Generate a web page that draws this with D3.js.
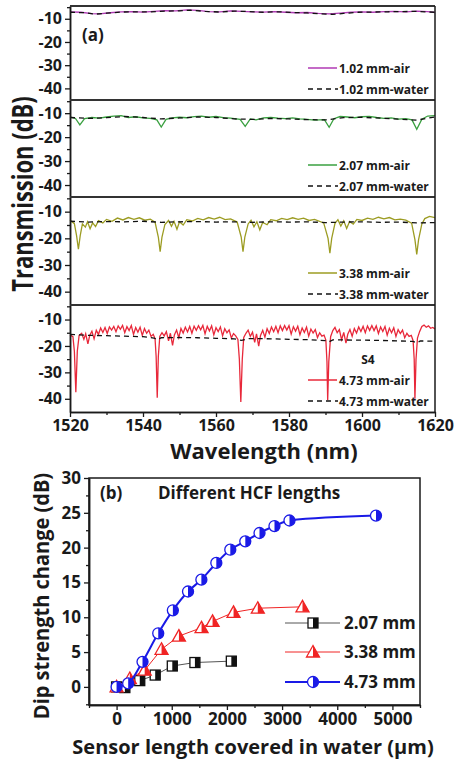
<!DOCTYPE html>
<html>
<head>
<meta charset="utf-8">
<script src="https://cdn.jsdelivr.net/npm/d3@7"></script>
<style>
  body { margin: 0; background: #fff; }
  svg text { font-family: "Open Sans", sans-serif; font-weight: bold; fill: #1a1a1a; }
</style>
</head>
<body>
<div id="chart"></div>
<script>
// ---- panel (a): transmission spectra, [wavelength nm, dB]
const lengthLabels = ["1.02", "2.07", "3.38", "4.73"];
const wavelengthTicks = [1520, 1540, 1560, 1580, 1600, 1620];
const wavelengthMinor = [1530, 1550, 1570, 1590, 1610];
const transmissionTicks = [-10, -20, -30, -40];
const transmissionMinor = [-5, -15, -25, -35];

const air102 = [[1520,-7.0],[1523,-7.2],[1526,-7.8],[1528,-7.9],[1531,-7.4],[1534,-7.0],[1537,-6.9],[1540,-7.1],[1543,-6.8],[1546,-6.5],[1549,-6.6],[1552,-6.2],[1555,-6.4],[1558,-6.9],[1561,-7.0],[1564,-6.6],[1567,-6.8],[1570,-7.0],[1573,-7.1],[1576,-6.9],[1579,-7.2],[1582,-7.4],[1585,-7.3],[1588,-7.7],[1591,-7.9],[1594,-7.6],[1597,-7.2],[1600,-7.0],[1603,-7.2],[1606,-6.9],[1609,-6.8],[1612,-7.0],[1615,-6.7],[1618,-6.9],[1620,-7.3]];
const water102 = [[1520,-7.2],[1524,-7.4],[1527,-8.0],[1530,-7.6],[1534,-7.1],[1538,-7.0],[1542,-7.0],[1546,-6.7],[1550,-6.6],[1553,-6.3],[1557,-6.8],[1561,-7.1],[1565,-6.7],[1569,-6.9],[1573,-7.2],[1577,-7.0],[1581,-7.3],[1585,-7.5],[1589,-7.9],[1592,-8.1],[1595,-7.7],[1599,-7.2],[1603,-7.1],[1607,-7.0],[1611,-6.9],[1615,-6.8],[1620,-7.2]];

const air207 = [[1520,-11.5],[1521.5,-12.2],[1522.7,-14.9],[1524,-12.3],[1526,-11.8],[1528,-12.1],[1530,-11.6],[1532,-11.2],[1534,-11.0],[1536,-11.8],[1538,-11.5],[1540,-12.0],[1542,-12.2],[1543.8,-12.8],[1545,-15.8],[1546.3,-12.6],[1548,-12.0],[1550,-11.7],[1552,-11.9],[1554,-11.4],[1556,-11.2],[1558,-11.7],[1560,-11.4],[1562,-11.9],[1564,-12.1],[1566.6,-12.6],[1568,-15.5],[1569.4,-12.4],[1571,-12.8],[1573,-12.0],[1575,-11.8],[1577,-12.1],[1579,-12.3],[1581,-12.0],[1583,-12.4],[1585,-12.6],[1587,-12.9],[1589.7,-12.7],[1591,-15.9],[1592.3,-12.3],[1594,-11.4],[1596,-11.6],[1598,-11.9],[1600,-11.5],[1602,-11.3],[1604,-11.8],[1606,-12.2],[1608,-12.0],[1610,-12.5],[1612,-12.3],[1613.7,-12.8],[1615,-16.7],[1616.4,-12.5],[1618,-11.2],[1620,-11.0]];
const water207 = [[1520,-11.8],[1525,-12.2],[1530,-11.9],[1535,-11.4],[1540,-11.8],[1545,-12.4],[1550,-12.0],[1555,-11.6],[1560,-11.8],[1565,-12.4],[1570,-12.6],[1575,-12.2],[1580,-12.4],[1585,-12.7],[1590,-12.8],[1595,-11.9],[1600,-11.7],[1605,-12.1],[1610,-12.5],[1615,-12.9],[1620,-11.6]];

const air338 = [[1520,-13.2],[1521.2,-14.5],[1521.8,-19],[1522.3,-24.1],[1522.8,-19],[1523.4,-14.6],[1524.2,-15.8],[1524.8,-13.8],[1525.5,-16.4],[1526.2,-14.2],[1527,-15.6],[1527.8,-13.4],[1529,-14.2],[1530,-12.9],[1531.5,-13.6],[1533,-12.4],[1534.5,-13.1],[1536,-12.2],[1537.5,-12.9],[1539,-12.3],[1540.5,-13.2],[1542,-12.8],[1543.3,-13.9],[1544.2,-19.5],[1544.7,-25],[1545.2,-19.5],[1546,-14.8],[1547,-13.3],[1547.8,-15.5],[1548.5,-13.6],[1549.3,-16.6],[1550,-13.8],[1551,-15.0],[1552,-13.0],[1553.5,-13.5],[1555,-12.5],[1556.5,-13.1],[1558,-12.2],[1559.5,-12.8],[1561,-12.1],[1562.5,-13.0],[1564,-12.7],[1565.8,-13.9],[1566.9,-19.5],[1567.4,-25],[1567.9,-19.5],[1568.8,-14.6],[1569.6,-13.2],[1570.4,-15.7],[1571.2,-13.8],[1572,-16.8],[1572.8,-14.0],[1574,-14.9],[1575,-13.0],[1576.5,-13.4],[1578,-12.5],[1579.5,-13.0],[1581,-12.3],[1582.5,-12.9],[1584,-12.4],[1585.5,-13.3],[1587,-12.9],[1589.5,-14.2],[1590.7,-20],[1591.2,-25.6],[1591.7,-20],[1592.6,-14.4],[1593.4,-13.0],[1594.2,-15.4],[1595,-13.4],[1595.8,-16.3],[1596.6,-13.7],[1597.6,-14.7],[1598.6,-12.9],[1600,-13.3],[1601.5,-12.4],[1603,-12.9],[1604.5,-12.1],[1606,-12.7],[1607.5,-12.2],[1609,-13.1],[1610.5,-12.8],[1612,-13.2],[1613.6,-14.3],[1614.5,-20.5],[1615,-26],[1615.5,-20.5],[1616.4,-14.6],[1617.2,-12.6],[1618.5,-11.8],[1620,-12.2]];
const water338 = [[1520,-13.6],[1525,-13.9],[1530,-13.7],[1535,-13.8],[1540,-13.6],[1545,-14.0],[1550,-13.8],[1555,-13.7],[1560,-13.9],[1565,-13.8],[1570,-14.0],[1575,-13.8],[1580,-13.9],[1585,-13.8],[1590,-14.1],[1595,-13.9],[1600,-13.8],[1605,-14.0],[1610,-13.9],[1615,-14.2],[1620,-14.1]];

const air473 = [[1520,-15.8],[1520.8,-16.5],[1521.2,-22],[1521.6,-37.5],[1522.0,-22],[1522.5,-16.0],[1523.2,-15.2],[1523.8,-17.5],[1524.3,-15.4],[1524.9,-19.2],[1525.4,-16.0],[1526,-14.4],[1526.6,-17.3],[1527.2,-14.1],[1527.8,-15.6],[1528.4,-13.2],[1529,-14.9],[1529.6,-13.0],[1530.2,-15.3],[1530.8,-12.8],[1531.4,-14.0],[1532,-12.6],[1532.6,-14.6],[1533.2,-12.4],[1533.8,-13.7],[1534.4,-12.2],[1535,-15.0],[1535.6,-12.7],[1536.2,-14.2],[1536.8,-12.3],[1537.4,-15.6],[1538,-13.0],[1538.6,-14.8],[1539.2,-12.9],[1539.8,-16.0],[1540.4,-13.4],[1541,-15.2],[1541.6,-14.0],[1542.2,-16.4],[1542.8,-15.6],[1543.3,-17.2],[1543.6,-24],[1543.9,-39.6],[1544.2,-24],
  [1544.6,-16.4],[1545.2,-15.0],[1545.8,-16.2],[1546.4,-14.6],[1547,-18.1],[1547.5,-15.2],[1548.1,-19.8],[1548.6,-15.8],[1549.2,-14.0],[1549.8,-16.9],[1550.4,-13.4],[1551,-15.1],[1551.6,-12.9],[1552.2,-14.7],[1552.8,-12.6],[1553.4,-15.2],[1554,-12.5],[1554.6,-14.1],[1555.2,-12.3],[1555.8,-13.9],[1556.4,-12.2],[1557,-15.4],[1557.6,-12.6],[1558.2,-14.3],[1558.8,-12.4],[1559.4,-15.8],[1560,-13.1],[1560.6,-14.6],[1561.2,-12.8],[1561.8,-16.2],[1562.4,-13.5],[1563,-15.0],[1563.6,-13.9],[1564.2,-17.0],[1564.8,-15.3],[1565.4,-16.2],[1566.0,-17.5],[1566.4,-25],[1566.8,-41.2],[1567.2,-25],
  [1567.6,-16.8],[1568.2,-15.2],[1568.8,-14.0],[1569.4,-16.4],[1570,-14.8],[1570.6,-18.6],[1571.1,-15.4],[1571.7,-20.1],[1572.2,-16.0],[1572.8,-14.1],[1573.4,-16.7],[1574,-13.5],[1574.6,-15.3],[1575.2,-12.8],[1575.8,-14.6],[1576.4,-12.6],[1577,-15.0],[1577.6,-12.4],[1578.2,-14.2],[1578.8,-12.3],[1579.4,-14.0],[1580,-12.3],[1580.6,-15.5],[1581.2,-12.7],[1581.8,-14.4],[1582.4,-12.5],[1583,-15.7],[1583.6,-13.2],[1584.2,-14.9],[1584.8,-12.9],[1585.4,-16.3],[1586,-13.6],[1586.6,-15.1],[1587.2,-13.8],[1587.8,-16.8],[1588.4,-15.0],[1589,-16.3],[1589.6,-15.9],[1590.1,-17.8],[1590.4,-26],[1590.6,-40.5],[1590.9,-26],
  [1591.4,-16.5],[1592,-14.2],[1592.6,-13.0],[1593.2,-15.0],[1593.8,-13.8],[1594.4,-17.6],[1595,-14.9],[1595.6,-18.9],[1596.1,-15.6],[1596.7,-13.8],[1597.3,-16.3],[1597.9,-13.4],[1598.5,-15.1],[1599.1,-12.8],[1599.7,-14.5],[1600.3,-12.6],[1600.9,-15.0],[1601.5,-12.4],[1602.1,-14.1],[1602.7,-12.3],[1603.3,-14.2],[1603.9,-12.4],[1604.5,-15.3],[1605.1,-12.8],[1605.7,-14.5],[1606.3,-12.6],[1606.9,-15.9],[1607.5,-13.3],[1608.1,-15.0],[1608.7,-13.1],[1609.3,-16.4],[1609.9,-13.8],[1610.5,-15.3],[1611.1,-14.0],[1611.7,-16.9],[1612.3,-15.2],[1612.9,-16.4],[1613.5,-16.0],[1614.0,-18.0],[1614.3,-25],[1614.5,-40],[1614.8,-25],
  [1615.2,-17.0],[1615.8,-14.5],[1616.4,-12.6],[1617,-12.1],[1617.6,-12.9],[1618.2,-12.4],[1618.8,-13.3],[1619.4,-13.0],[1620,-13.6]];
const water473 = [[1520,-15.6],[1525,-16.0],[1530,-16.1],[1535,-16.3],[1540,-16.5],[1543,-17.0],[1544,-17.6],[1545,-16.9],[1550,-16.8],[1555,-16.9],[1560,-17.1],[1565,-17.3],[1567,-17.9],[1569,-17.2],[1575,-17.3],[1580,-17.5],[1585,-17.6],[1590,-18.0],[1591,-18.4],[1592,-17.7],[1600,-17.8],[1605,-17.9],[1610,-18.1],[1614,-18.3],[1615,-18.8],[1616,-18.1],[1620,-18.2]];

// ---- panel (b): dip strength change vs covered length (um)
const hcfLabels = ["2.07 mm", "3.38 mm", "4.73 mm"];
const covered207 = [0, 150, 420, 700, 1010, 1420, 2080];
const dip207 = [0, -0.1, 0.9, 1.7, 3.0, 3.5, 3.7];
const covered338 = [0, 240, 510, 815, 1130, 1540, 1740, 2120, 2560, 3370];
const dip338 = [0, 1.2, 2.4, 5.4, 7.3, 8.5, 9.4, 10.7, 11.3, 11.5];
const covered473 = [0, 210, 470, 755, 1020, 1295, 1537, 1808, 2061, 2333, 2591, 2862, 3134, 4702];
const dip473 = [0, 0.5, 3.6, 7.7, 11.0, 13.7, 15.4, 17.8, 19.7, 20.9, 22.1, 23.1, 23.9, 24.6];
const lengthTicks = [0, 1000, 2000, 3000, 4000, 5000];
const lengthMinor = [-500, 500, 1500, 2500, 3500, 4500, 5500];
const dipTicks = [0, 5, 10, 15, 20, 25, 30];
const dipMinor = [-2.5, 2.5, 7.5, 12.5, 17.5, 22.5, 27.5];

const svg = d3.select("#chart").append("svg")
    .attr("width", 455)
    .attr("height", 767);

const ink = "#1a1a1a";
const styleAxis = (g, fontSize) => {
    g.select(".domain").attr("stroke", ink).attr("stroke-width", 1.5);
    g.selectAll(".tick line").attr("stroke", ink).attr("stroke-width", 1.3);
    g.selectAll(".tick text").attr("font-size", fontSize).attr("fill", ink);
};

// ================= (a) =================
const xWave = d3.scaleLinear().domain([1520, 1620]).range([70, 435]);
const panelEdges = [6, 100, 197, 305, 412];
const airSeries = [air102, air207, air338, air473];
const waterSeries = [water102, water207, water338, water473];
const airColors = ["#b03ab4", "#3aa040", "#9c9c22", "#e8283a"];

airSeries.forEach((air, i) => {
    const top = panelEdges[i], bottom = panelEdges[i + 1];
    const y = d3.scaleLinear().domain([-45, -4.5]).range([bottom, top]);
    const line = d3.line().x(d => xWave(d[0])).y(d => y(d[1]));

    svg.append("path").datum(air)
        .attr("d", line)
        .attr("fill", "none")
        .attr("stroke", airColors[i])
        .attr("stroke-width", 1.3);
    svg.append("path").datum(waterSeries[i])
        .attr("d", line)
        .attr("fill", "none")
        .attr("stroke", "#111")
        .attr("stroke-width", 1.3)
        .attr("stroke-dasharray", "5,4");

    svg.append("g")
        .attr("transform", "translate(70,0)")
        .call(d3.axisLeft(y).tickValues(transmissionTicks).tickSize(5).tickSizeOuter(0).tickFormat(d => d))
        .call(g => styleAxis(g, 16));
    svg.append("g")
        .attr("transform", "translate(70,0)")
        .call(d3.axisLeft(y).tickValues(transmissionMinor).tickSize(3).tickSizeOuter(0).tickFormat(""))
        .call(g => styleAxis(g, 16));

    // separator / top line of each sub panel
    svg.append("line")
        .attr("x1", 70).attr("x2", 435)
        .attr("y1", top).attr("y2", top)
        .attr("stroke", "#333").attr("stroke-width", 1.8);

    // legend
    const row1 = bottom - 32, row2 = bottom - 11;
    svg.append("line")
        .attr("x1", 308).attr("x2", 337).attr("y1", row1).attr("y2", row1)
        .attr("stroke", airColors[i]).attr("stroke-width", 1.5);
    svg.append("text").attr("x", 339).attr("y", row1 + 4.5)
        .attr("font-size", 12).text(`${lengthLabels[i]} mm-air`);
    svg.append("line")
        .attr("x1", 308).attr("x2", 338).attr("y1", row2).attr("y2", row2)
        .attr("stroke", "#111").attr("stroke-width", 1.5).attr("stroke-dasharray", "5,4");
    svg.append("text").attr("x", 339).attr("y", row2 + 4.5)
        .attr("font-size", 12).text(`${lengthLabels[i]} mm-water`);
});

svg.append("line")
    .attr("x1", 435).attr("x2", 435).attr("y1", 6).attr("y2", 412)
    .attr("stroke", ink).attr("stroke-width", 1.5);

svg.append("g")
    .attr("transform", "translate(0,412)")
    .call(d3.axisBottom(xWave).tickValues(wavelengthTicks).tickSize(5).tickSizeOuter(0).tickFormat(d => d))
    .call(g => styleAxis(g, 16));
svg.append("g")
    .attr("transform", "translate(0,412)")
    .call(d3.axisBottom(xWave).tickValues(wavelengthMinor).tickSize(3).tickSizeOuter(0).tickFormat(""))
    .call(g => styleAxis(g, 16));

svg.append("text").attr("x", 82).attr("y", 41).attr("font-size", 17).text("(a)");
svg.append("text").attr("x", 368).attr("y", 364).attr("font-size", 12).attr("text-anchor", "middle").text("S4");

svg.append("text")
    .attr("transform", "translate(22,194) scale(1.28,1) rotate(-90)")
    .attr("text-anchor", "middle")
    .attr("dominant-baseline", "central")
    .attr("font-size", 22)
    .text("Transmission (dB)");
svg.append("text")
    .attr("x", 264).attr("y", 459)
    .attr("text-anchor", "middle")
    .attr("font-size", 22)
    .text("Wavelength (nm)");

// ================= (b) =================
const xLen = d3.scaleLinear().domain([-500, 5500]).range([89, 420]);
const yDip = d3.scaleLinear().domain([-2.6, 30]).range([705, 478]);

svg.append("rect")
    .attr("x", 89).attr("y", 478).attr("width", 331).attr("height", 227)
    .attr("fill", "none").attr("stroke", ink).attr("stroke-width", 1.5);

svg.append("g")
    .attr("transform", "translate(0,705)")
    .call(d3.axisBottom(xLen).tickValues(lengthTicks).tickSize(5).tickSizeOuter(0).tickFormat(d => d))
    .call(g => styleAxis(g, 17));
svg.append("g")
    .attr("transform", "translate(0,705)")
    .call(d3.axisBottom(xLen).tickValues(lengthMinor).tickSize(3).tickSizeOuter(0).tickFormat(""))
    .call(g => styleAxis(g, 17));
svg.append("g")
    .attr("transform", "translate(89,0)")
    .call(d3.axisLeft(yDip).tickValues(dipTicks).tickSize(5).tickSizeOuter(0).tickFormat(d => d))
    .call(g => styleAxis(g, 17));
svg.append("g")
    .attr("transform", "translate(89,0)")
    .call(d3.axisLeft(yDip).tickValues(dipMinor).tickSize(3).tickSizeOuter(0).tickFormat(""))
    .call(g => styleAxis(g, 17));

// half filled markers: left white, right coloured
const drawMarker = (g, shape, color) => {
    if (shape === "square") {
        g.append("rect").attr("x", -5).attr("y", -5).attr("width", 10).attr("height", 10)
            .attr("fill", "#fff").attr("stroke", color).attr("stroke-width", 1.3);
        g.append("rect").attr("x", 0).attr("y", -5).attr("width", 5).attr("height", 10).attr("fill", color);
    } else if (shape === "triangle") {
        g.append("path").attr("d", "M0,-6.5L6.5,5L-6.5,5Z")
            .attr("fill", "#fff").attr("stroke", color).attr("stroke-width", 1.3);
        g.append("path").attr("d", "M0,-6.5L6.5,5L0,5Z").attr("fill", color);
    } else {
        g.append("circle").attr("r", 5.5)
            .attr("fill", "#fff").attr("stroke", color).attr("stroke-width", 1.3);
        g.append("path").attr("d", "M0,-5.5A5.5,5.5 0 0 1 0,5.5Z").attr("fill", color);
    }
};

const hcfSeries = [
    { xs: covered207, ys: dip207, color: "#111", lineColor: "#555", width: 1, shape: "square", curve: d3.curveLinear },
    { xs: covered338, ys: dip338, color: "#f02424", lineColor: "#f02424", width: 1, shape: "triangle", curve: d3.curveLinear },
    { xs: covered473, ys: dip473, color: "#1a1ae6", lineColor: "#1a1ae6", width: 2, shape: "circle", curve: d3.curveMonotoneX }
];

hcfSeries.forEach(s => {
    const pts = s.xs.map((x, k) => [x, s.ys[k]]);
    svg.append("path").datum(pts)
        .attr("d", d3.line().x(d => xLen(d[0])).y(d => yDip(d[1])).curve(s.curve))
        .attr("fill", "none")
        .attr("stroke", s.lineColor)
        .attr("stroke-width", s.width);
    svg.append("g").selectAll("g")
        .data(pts)
        .join("g")
        .attr("transform", d => `translate(${xLen(d[0])},${yDip(d[1])})`)
        .each(function () { drawMarker(d3.select(this), s.shape, s.color); });
});

// legend (b)
const legendRows = [623, 652, 682];
hcfSeries.forEach((s, i) => {
    const yy = legendRows[i];
    svg.append("line")
        .attr("x1", 285).attr("x2", 340).attr("y1", yy).attr("y2", yy)
        .attr("stroke", s.lineColor).attr("stroke-width", s.width);
    drawMarker(svg.append("g").attr("transform", `translate(313,${yy})`), s.shape, s.color);
    svg.append("text").attr("x", 344).attr("y", yy + 6)
        .attr("font-size", 17).text(hcfLabels[i]);
});

svg.append("text").attr("x", 100).attr("y", 499).attr("font-size", 17).text("(b)");
svg.append("text").attr("x", 158).attr("y", 499).attr("font-size", 17).text("Different HCF lengths");

svg.append("text")
    .attr("transform", "translate(41,596) scale(1.1,1) rotate(-90)")
    .attr("text-anchor", "middle")
    .attr("dominant-baseline", "central")
    .attr("font-size", 20)
    .text("Dip strength change (dB)");
svg.append("text")
    .attr("x", 253).attr("y", 754)
    .attr("text-anchor", "middle")
    .attr("font-size", 20)
    .text("Sensor length covered in water (μm)");
</script>
</body>
</html>
